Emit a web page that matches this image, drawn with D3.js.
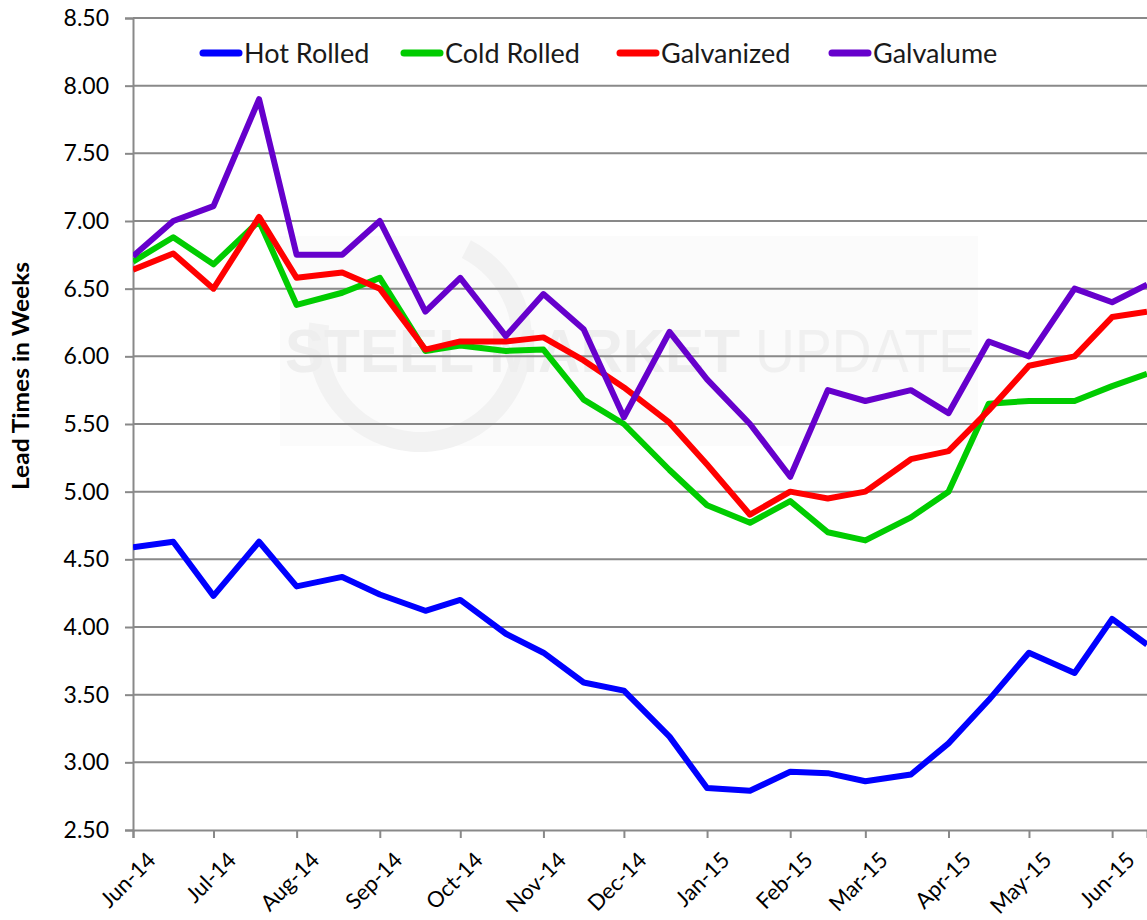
<!DOCTYPE html>
<html>
<head>
<meta charset="utf-8">
<script src="https://cdn.jsdelivr.net/npm/d3@7/dist/d3.min.js"></script>
<style>
  html, body { margin: 0; padding: 0; background: #fff; }
  svg { display: block; font-family: Lato, "Liberation Sans", sans-serif; }
</style>
</head>
<body>
<svg id="chart" width="1147" height="920"></svg>
<script>
// Survey dates (twice a month)
const dates = [
  "2014-06-01","2014-06-16","2014-07-01","2014-07-18","2014-08-01","2014-08-18",
  "2014-09-01","2014-09-18","2014-10-01","2014-10-18","2014-11-01","2014-11-16",
  "2014-12-01","2014-12-18","2015-01-01","2015-01-17","2015-02-01","2015-02-15",
  "2015-03-01","2015-03-18","2015-04-01","2015-04-16","2015-05-01","2015-05-18",
  "2015-06-01","2015-06-14"
];

// Lead times in weeks
const hotRolled = [4.59,4.63,4.23,4.63,4.30,4.37,4.24,4.12,4.20,3.95,3.81,3.59,3.53,3.19,2.81,2.79,2.93,2.92,2.86,2.91,3.14,3.46,3.81,3.66,4.06,3.87];
const coldRolled = [6.70,6.88,6.68,7.00,6.38,6.47,6.58,6.04,6.08,6.04,6.05,5.68,5.50,5.16,4.90,4.77,4.93,4.70,4.64,4.81,5.00,5.65,5.67,5.67,5.78,5.87];
const galvanized = [6.64,6.76,6.50,7.03,6.58,6.62,6.50,6.05,6.11,6.11,6.14,5.97,5.77,5.51,5.20,4.83,5.00,4.95,5.00,5.24,5.30,5.60,5.93,6.00,6.29,6.33];
const galvalume = [6.74,7.00,7.11,7.90,6.75,6.75,7.00,6.33,6.58,6.15,6.46,6.20,5.55,6.18,5.83,5.50,5.11,5.75,5.67,5.75,5.58,6.11,6.00,6.50,6.40,6.53];

const seriesNames = ["Hot Rolled","Cold Rolled","Galvanized","Galvalume"];
const seriesColors = ["#0000ff","#00cc00","#ff0000","#6600cc"];
const seriesValues = [hotRolled, coldRolled, galvanized, galvalume];

const yTicks = [2.5,3.0,3.5,4.0,4.5,5.0,5.5,6.0,6.5,7.0,7.5,8.0,8.5];
const xTickMonths = ["2014-06-01","2014-07-01","2014-08-01","2014-09-01","2014-10-01","2014-11-01",
  "2014-12-01","2015-01-01","2015-02-01","2015-03-01","2015-04-01","2015-05-01","2015-06-01"];

const parse = d3.utcParse("%Y-%m-%d");
const fmtMonth = d3.utcFormat("%b-%y");

const svg = d3.select("#chart");
const W = 1147, H = 920;
const m = { left: 133, right: 0, top: 18, bottom: 90 };

const x = d3.scaleUtc()
  .domain([parse(dates[0]), parse(dates[dates.length - 1])])
  .range([m.left, W - m.right]);
const y = d3.scaleLinear().domain([2.5, 8.5]).range([H - m.bottom, m.top]);

const axisGray = "#898989";

// Faint watermark panel
const wm = svg.append("g").attr("class", "watermark");
wm.append("rect")
  .attr("x", 280).attr("y", 236).attr("width", 698).attr("height", 210)
  .attr("fill", "#fbfbfb");
wm.append("path")
  .attr("d", d3.arc()({ innerRadius: 92, outerRadius: 112, startAngle: Math.PI * 0.15, endAngle: Math.PI * 1.55 }))
  .attr("transform", "translate(420,340)")
  .attr("fill", "#f2f2f2");
wm.append("text")
  .attr("x", 285).attr("y", 372)
  .attr("font-family", "'Liberation Sans', Arial, sans-serif")
  .attr("font-size", 62).attr("font-weight", "bold")
  .attr("fill", "#eeeeee")
  .attr("textLength", 455).attr("lengthAdjust", "spacingAndGlyphs")
  .text("STEEL MARKET");
wm.append("text")
  .attr("x", 755).attr("y", 372)
  .attr("font-family", "'Liberation Sans', Arial, sans-serif")
  .attr("font-size", 62).attr("font-weight", "normal")
  .attr("fill", "#f0f0f0")
  .attr("textLength", 220).attr("lengthAdjust", "spacingAndGlyphs")
  .text("UPDATE");

// Horizontal gridlines
svg.append("g")
  .selectAll("line")
  .data(yTicks.filter(t => t > 2.5))
  .join("line")
  .attr("x1", m.left).attr("x2", W)
  .attr("y1", d => y(d)).attr("y2", d => y(d))
  .attr("stroke", axisGray).attr("stroke-width", 2);

// Y axis
const yAxis = svg.append("g")
  .attr("transform", `translate(${m.left},0)`)
  .call(d3.axisLeft(y).tickValues(yTicks).tickFormat(d3.format(".2f")).tickSizeOuter(0).tickSize(8).tickPadding(16));
yAxis.select(".domain").attr("stroke", axisGray).attr("stroke-width", 2);
yAxis.selectAll(".tick line").attr("stroke", axisGray).attr("stroke-width", 2);
yAxis.selectAll(".tick text")
  .attr("font-family", "Lato, 'Liberation Sans', sans-serif")
  .attr("font-size", 23).attr("fill", "#000");

// X axis
const xAxis = svg.append("g")
  .attr("transform", `translate(0,${H - m.bottom})`)
  .call(d3.axisBottom(x).tickValues(xTickMonths.map(parse)).tickFormat(fmtMonth).tickSizeOuter(0).tickSize(8));
xAxis.select(".domain").attr("stroke", axisGray).attr("stroke-width", 2);
xAxis.selectAll(".tick line").attr("stroke", axisGray).attr("stroke-width", 2);
xAxis.selectAll(".tick text")
  .attr("font-family", "Lato, 'Liberation Sans', sans-serif")
  .attr("font-size", 22).attr("fill", "#000")
  .attr("text-anchor", "end")
  .attr("transform", "translate(8,16) rotate(-45)")
  .attr("dy", "0.5em");

// Y axis title
svg.append("text")
  .attr("transform", `translate(29,376) rotate(-90)`)
  .attr("text-anchor", "middle")
  .attr("font-family", "Lato, 'Liberation Sans', sans-serif")
  .attr("font-size", 22).attr("font-weight", "bold")
  .attr("textLength", 228).attr("lengthAdjust", "spacingAndGlyphs")
  .text("Lead Times in Weeks");

// Series lines
svg.append("clipPath").attr("id", "plot-clip")
  .append("rect").attr("x", m.left).attr("y", 0).attr("width", W - m.left).attr("height", H - m.bottom);

const line = d3.line()
  .x((d, i) => x(parse(dates[i])))
  .y(d => y(d));

svg.append("g").attr("clip-path", "url(#plot-clip)")
  .selectAll("path")
  .data(seriesValues)
  .join("path")
  .attr("d", line)
  .attr("fill", "none")
  .attr("stroke", (d, i) => seriesColors[i])
  .attr("stroke-width", 6)
  .attr("stroke-linejoin", "round");

// Legend
const legendX = [200, 401, 617, 829];
const legend = svg.append("g").attr("class", "legend");
const items = legend.selectAll("g").data(seriesNames).join("g")
  .attr("transform", (d, i) => `translate(${legendX[i]},53)`);
items.append("line")
  .attr("x1", 3).attr("x2", 39)
  .attr("stroke", (d, i) => seriesColors[i])
  .attr("stroke-width", 7).attr("stroke-linecap", "round");
items.append("text")
  .attr("x", 44).attr("dy", "0.36em")
  .attr("font-family", "Lato, 'Liberation Sans', sans-serif")
  .attr("font-size", 27).attr("fill", "#1a1a1a")
  .text(d => d);
</script>
</body>
</html>
